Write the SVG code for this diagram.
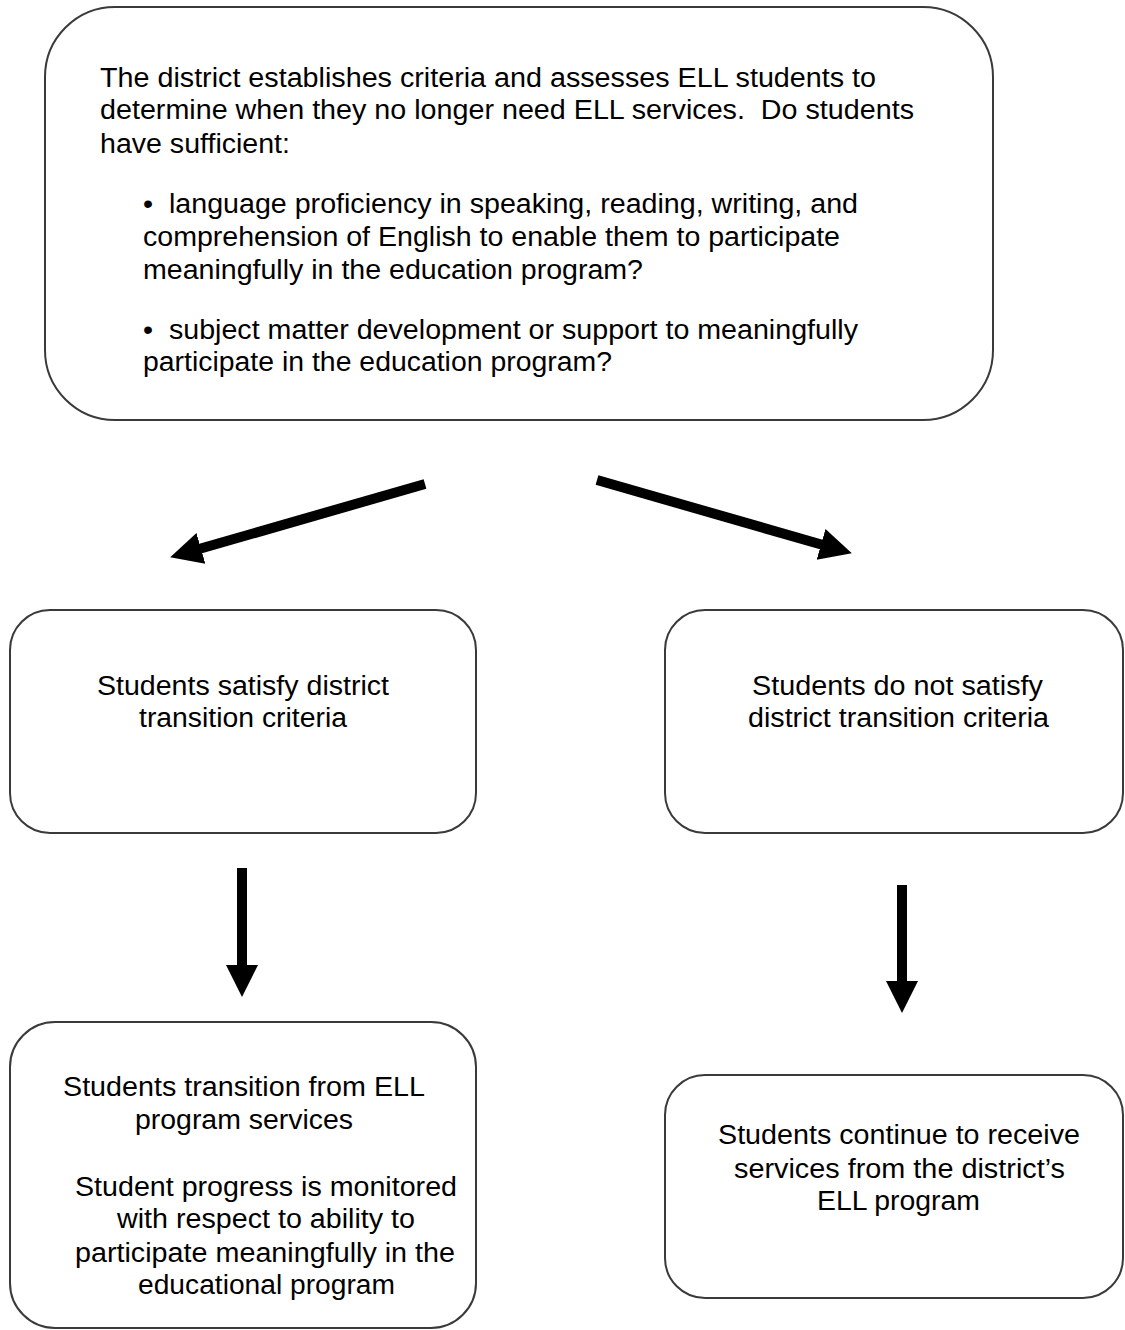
<svg xmlns="http://www.w3.org/2000/svg" width="1125" height="1330" viewBox="0 0 1125 1330">
<style>
.box{fill:#fff;stroke:#3a3a3a;stroke-width:2}
.t{font-family:"Liberation Sans",Arial,sans-serif;font-size:27px;fill:#000;white-space:pre}
.arr{stroke:#000;stroke-width:10;fill:none}
</style>
<defs>
<marker id="ah" markerUnits="userSpaceOnUse" markerWidth="34" markerHeight="34" viewBox="0 0 34 34" refX="2" refY="17" orient="auto">
<path d="M0,1 L32,17 L0,33 z" fill="#000"/>
</marker>
</defs>
<rect width="1125" height="1330" fill="#fff"/>
<g id="top">
<rect class="box" x="45" y="7" width="948" height="413" rx="70"/>
<text class="t" x="100" y="87" textLength="776" lengthAdjust="spacingAndGlyphs">The district establishes criteria and assesses ELL students to</text>
<text class="t" x="100" y="119" textLength="814" lengthAdjust="spacingAndGlyphs">determine when they no longer need ELL services.  Do students</text>
<text class="t" x="100" y="153" textLength="190" lengthAdjust="spacingAndGlyphs">have sufficient:</text>
<text class="t" x="143" y="213" textLength="715" lengthAdjust="spacingAndGlyphs">•  language proficiency in speaking, reading, writing, and</text>
<text class="t" x="143" y="246" textLength="697" lengthAdjust="spacingAndGlyphs">comprehension of English to enable them to participate</text>
<text class="t" x="143" y="279" textLength="500" lengthAdjust="spacingAndGlyphs">meaningfully in the education program?</text>
<text class="t" x="143" y="339" textLength="715" lengthAdjust="spacingAndGlyphs">•  subject matter development or support to meaningfully</text>
<text class="t" x="143" y="371" textLength="469" lengthAdjust="spacingAndGlyphs">participate in the education program?</text>
</g>
<g id="satisfy">
<rect class="box" x="10" y="610" width="466" height="223" rx="40"/>
<text class="t" x="97" y="695" textLength="292" lengthAdjust="spacingAndGlyphs">Students satisfy district</text>
<text class="t" x="139" y="727" textLength="208" lengthAdjust="spacingAndGlyphs">transition criteria</text>
</g>
<g id="notsatisfy">
<rect class="box" x="665" y="610" width="458" height="223" rx="40"/>
<text class="t" x="752" y="695" textLength="291" lengthAdjust="spacingAndGlyphs">Students do not satisfy</text>
<text class="t" x="748" y="727" textLength="301" lengthAdjust="spacingAndGlyphs">district transition criteria</text>
</g>
<g id="transition">
<rect class="box" x="10" y="1022" width="466" height="306" rx="45"/>
<text class="t" x="63" y="1096" textLength="362" lengthAdjust="spacingAndGlyphs">Students transition from ELL</text>
<text class="t" x="135" y="1129" textLength="218" lengthAdjust="spacingAndGlyphs">program services</text>
<text class="t" x="75" y="1196" textLength="382" lengthAdjust="spacingAndGlyphs">Student progress is monitored</text>
<text class="t" x="117" y="1228" textLength="298" lengthAdjust="spacingAndGlyphs">with respect to ability to</text>
<text class="t" x="75" y="1262" textLength="380" lengthAdjust="spacingAndGlyphs">participate meaningfully in the</text>
<text class="t" x="138" y="1294" textLength="257" lengthAdjust="spacingAndGlyphs">educational program</text>
</g>
<g id="continue">
<rect class="box" x="665" y="1075" width="458" height="223" rx="40"/>
<text class="t" x="718" y="1144" textLength="362" lengthAdjust="spacingAndGlyphs">Students continue to receive</text>
<text class="t" x="734" y="1178" textLength="331" lengthAdjust="spacingAndGlyphs">services from the district’s</text>
<text class="t" x="817" y="1210" textLength="163" lengthAdjust="spacingAndGlyphs">ELL program</text>
</g>
<g id="connectors">
<line class="arr" x1="425" y1="484" x2="199" y2="549" marker-end="url(#ah)"/>
<line class="arr" x1="597" y1="480" x2="823" y2="545" marker-end="url(#ah)"/>
<line class="arr" x1="242" y1="868" x2="242" y2="967" marker-end="url(#ah)"/>
<line class="arr" x1="902" y1="885" x2="902" y2="983" marker-end="url(#ah)"/>
</g>
</svg>
